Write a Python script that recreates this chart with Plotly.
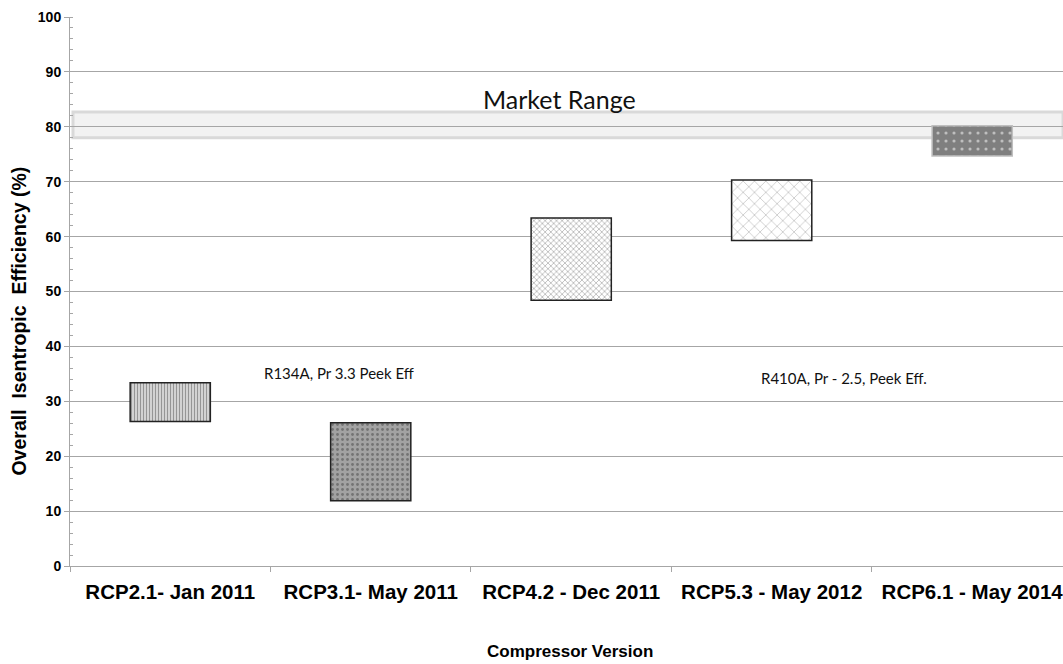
import plotly.graph_objects as go

categories = ["RCP2.1- Jan 2011", "RCP3.1- May 2011", "RCP4.2 - Dec 2011",
              "RCP5.3 - May 2012", "RCP6.1 - May 2014"]
eff_low = [26.3, 11.9, 48.4, 59.3, 74.7]
eff_high = [33.4, 26.1, 63.4, 70.3, 80.2]
market_low = 78.0
market_high = 82.7
y_ticks = [0, 10, 20, 30, 40, 50, 60, 70, 80, 90, 100]

spans = [h - l for h, l in zip(eff_high, eff_low)]

fig = go.Figure()
fig.add_trace(go.Bar(
    x=categories, y=spans, base=eff_low, width=0.4,
    marker=dict(
        color=["#e6e6e6", "#a2a2a2", "#ffffff", "#ffffff", "#7f7f7f"],
        line=dict(color=["#222222", "#222222", "#222222", "#222222", "#bfbfbf"], width=1.5),
        pattern=dict(
            shape=["|", ".", "x", "x", "."],
            fgcolor=["#7a7a7a", "#ececec", "#a8a8a8", "#9a9a9a", "#e6e6e6"],
            bgcolor=["#e6e6e6", "#a2a2a2", "#ffffff", "#ffffff", "#7f7f7f"],
            size=[3, 5, 4, 8, 8],
            solidity=[0.5, 0.25, 0.3, 0.12, 0.12],
            fillmode="overlay",
        ),
    ),
    showlegend=False,
    hoverinfo="skip",
))

fig.add_shape(type="rect", xref="paper", yref="y", x0=0.003, x1=1.0,
              y0=market_low, y1=market_high,
              fillcolor="#f2f2f2", line=dict(color="#d9d9d9", width=3), layer="below")

fig.add_annotation(x=1.94, y=85.1, xref="x", yref="y", text="Market Range",
                   showarrow=False, font=dict(family="Lato", size=25, color="#111111"))
fig.add_annotation(x=0.84, y=35.2, xref="x", yref="y", text="R134A, Pr 3.3 Peek Eff",
                   showarrow=False, font=dict(family="Lato", size=15, color="#111111"))
fig.add_annotation(x=3.36, y=34.2, xref="x", yref="y", text="R410A, Pr - 2.5, Peek Eff.",
                   showarrow=False, font=dict(family="Lato", size=15, color="#111111"))

# axis titles placed as annotations for exact positioning
fig.add_annotation(x=-0.0514, y=0.447, xref="paper", yref="paper",
                   text="<b>Overall  Isentropic  Efficiency (%)</b>", textangle=-90,
                   showarrow=False, xanchor="center", yanchor="middle",
                   font=dict(family="Liberation Sans", size=19.5, color="#000000"))
fig.add_annotation(x=0.5035, y=-0.1566, xref="paper", yref="paper",
                   text="<b>Compressor Version</b>",
                   showarrow=False, xanchor="center", yanchor="middle",
                   font=dict(family="Liberation Sans", size=17, color="#000000"))

fig.update_layout(
    width=1063, height=664,
    margin=dict(l=70, r=0, t=17, b=98),
    plot_bgcolor="white", paper_bgcolor="white",
    font=dict(family="Liberation Sans", color="#000000"),
    xaxis=dict(
        type="category", range=[-0.5, 4.453],
        showline=True, linecolor="#a6a6a6", linewidth=1,
        ticks="outside", ticklen=5, tickcolor="#a6a6a6", tickson="boundaries",
        ticklabelstandoff=7,
        showgrid=False,
        tickfont=dict(family="Liberation Sans", size=20.5, color="#000000", weight="bold"),
    ),
    yaxis=dict(
        range=[0, 100], tickvals=y_ticks,
        showline=True, linecolor="#a6a6a6", linewidth=1,
        ticks="outside", ticklen=5, tickcolor="#a6a6a6",
        showgrid=True, gridcolor="#a6a6a6", gridwidth=1, zeroline=False,
        minor=dict(ticks="inside", dtick=2, ticklen=3, tickcolor="#a6a6a6", showgrid=False),
        tickfont=dict(family="Liberation Sans", size=14, color="#000000", weight="bold"),
    ),
)

fig.write_html("out.html", config={"displayModeBar": False},
               post_script="document.body.style.margin='0';")
